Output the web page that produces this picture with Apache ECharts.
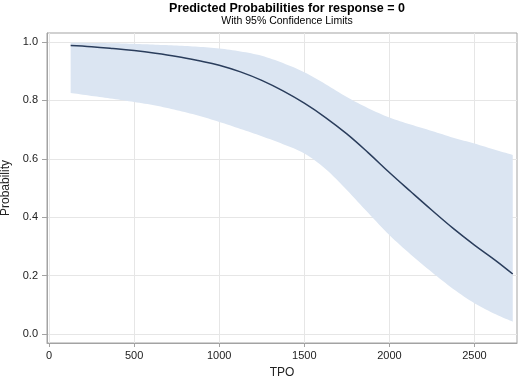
<!DOCTYPE html>
<html>
<head>
<meta charset="utf-8">
<script src="https://cdn.jsdelivr.net/npm/echarts@6/dist/echarts.min.js"></script>
<style>
  html, body { margin: 0; padding: 0; background: #fff; }
  #chart { width: 520px; height: 381px; }
</style>
</head>
<body>
<div id="chart"></div>
<script>
// values
var tpo   = [127, 250, 375, 500, 625, 750, 875, 1000, 1125, 1250, 1375, 1500, 1625, 1750, 1875, 2000, 2125, 2250, 2375, 2500, 2625, 2725];
var prob  = [0.987, 0.983, 0.977, 0.970, 0.961, 0.950, 0.936, 0.920, 0.897, 0.868, 0.832, 0.790, 0.741, 0.685, 0.621, 0.553, 0.488, 0.424, 0.362, 0.305, 0.252, 0.206];
var upper = [0.997, 0.996, 0.995, 0.993, 0.990, 0.987, 0.983, 0.977, 0.967, 0.952, 0.927, 0.896, 0.855, 0.811, 0.773, 0.741, 0.717, 0.695, 0.672, 0.652, 0.630, 0.613];
var lower = [0.825, 0.815, 0.805, 0.794, 0.782, 0.766, 0.748, 0.726, 0.702, 0.677, 0.650, 0.618, 0.565, 0.493, 0.415, 0.339, 0.273, 0.212, 0.155, 0.106, 0.068, 0.043];

var xTicks = [0, 500, 1000, 1500, 2000, 2500];
var yTicks = [0, 0.2, 0.4, 0.6, 0.8, 1.0];

var font = 'Liberation Sans, Arial, sans-serif';

var bandData = tpo.map(function (x, i) { return [x, lower[i], upper[i]]; });
var probData = tpo.map(function (x, i) { return [x, prob[i]]; });

var chart = echarts.init(document.getElementById('chart'), null, { renderer: 'canvas' });

// catmull-rom through pixel points so the band edges come out smooth
function smoothPts(pts) {
  var out = [];
  for (var i = 0; i < pts.length - 1; i++) {
    var p0 = pts[Math.max(i - 1, 0)], p1 = pts[i], p2 = pts[i + 1], p3 = pts[Math.min(i + 2, pts.length - 1)];
    for (var k = 0; k < 8; k++) {
      var t = k / 8, t2 = t * t, t3 = t2 * t;
      out.push([
        0.5 * (2 * p1[0] + (-p0[0] + p2[0]) * t + (2 * p0[0] - 5 * p1[0] + 4 * p2[0] - p3[0]) * t2 + (-p0[0] + 3 * p1[0] - 3 * p2[0] + p3[0]) * t3),
        0.5 * (2 * p1[1] + (-p0[1] + p2[1]) * t + (2 * p0[1] - 5 * p1[1] + 4 * p2[1] - p3[1]) * t2 + (-p0[1] + 3 * p1[1] - 3 * p2[1] + p3[1]) * t3)
      ]);
    }
  }
  out.push(pts[pts.length - 1]);
  return out;
}

// confidence band drawn as one polygon, points placed by the axes
function renderBand(params, api) {
  if (params.dataIndex !== 0) return;
  var top = [], bottom = [];
  for (var i = 0; i < bandData.length; i++) {
    top.push(api.coord([bandData[i][0], bandData[i][2]]));
    bottom.push(api.coord([bandData[i][0], bandData[i][1]]));
  }
  var pts = smoothPts(top).concat(smoothPts(bottom).reverse());
  return {
    type: 'polygon',
    shape: { points: pts },
    style: { fill: '#dbe5f2', stroke: null }
  };
}

var option = {
  animation: false,
  title: {
    text: 'Predicted Probabilities for response = 0',
    subtext: 'With 95% Confidence Limits',
    left: 282,
    textAlign: 'center',
    top: -3,
    itemGap: 1,
    textStyle: { fontFamily: font, fontSize: 12.5, fontWeight: 'bold', color: '#000' },
    subtextStyle: { fontFamily: font, fontSize: 10.5, color: '#000' }
  },
  grid: {
    left: 47, right: 3, top: 33, bottom: 38,
    outerBoundsMode: 'none',
    containLabel: false,
    show: true,
    borderColor: '#a3a3a3',
    borderWidth: 1
  },
  xAxis: {
    type: 'value',
    min: -12,
    max: 2750,
    name: 'TPO',
    nameLocation: 'middle',
    nameGap: 24,
    nameTextStyle: { fontFamily: font, fontSize: 12, color: '#222' },
    axisLine: { show: true, onZero: false, lineStyle: { color: '#a3a3a3' } },
    axisTick: { show: true, customValues: xTicks, length: 4, lineStyle: { color: '#a3a3a3' } },
    axisLabel: {
      customValues: xTicks, fontFamily: font, fontSize: 11, color: '#222', margin: 7,
      formatter: function (v) { return String(v); }
    },
    splitLine: { show: true, lineStyle: { color: '#e6e6e6' } }
  },
  yAxis: {
    type: 'value',
    min: -0.03,
    max: 1.03,
    name: 'Probability',
    nameLocation: 'middle',
    nameGap: 31,
    nameTextStyle: { fontFamily: font, fontSize: 12, color: '#222' },
    axisLine: { show: true, onZero: false, lineStyle: { color: '#a3a3a3' } },
    axisTick: { show: true, customValues: yTicks, length: 5, lineStyle: { color: '#a3a3a3' } },
    axisLabel: {
      customValues: yTicks, fontFamily: font, fontSize: 11, color: '#222', margin: 9,
      formatter: function (v) { return v.toFixed(1); }
    },
    splitLine: { show: true, lineStyle: { color: '#e6e6e6' } }
  },
  series: [
    {
      name: 'Confidence band',
      type: 'custom',
      renderItem: renderBand,
      data: bandData,
      encode: { x: 0, y: [1, 2] },
      clip: true,
      silent: true,
      z: 1
    },
    {
      name: 'Predicted',
      type: 'line',
      data: probData,
      symbol: 'none',
      smooth: 0.4,
      lineStyle: { color: '#2a3d5c', width: 1.5 },
      z: 3
    }
  ]
};

chart.setOption(option);
</script>
</body>
</html>
